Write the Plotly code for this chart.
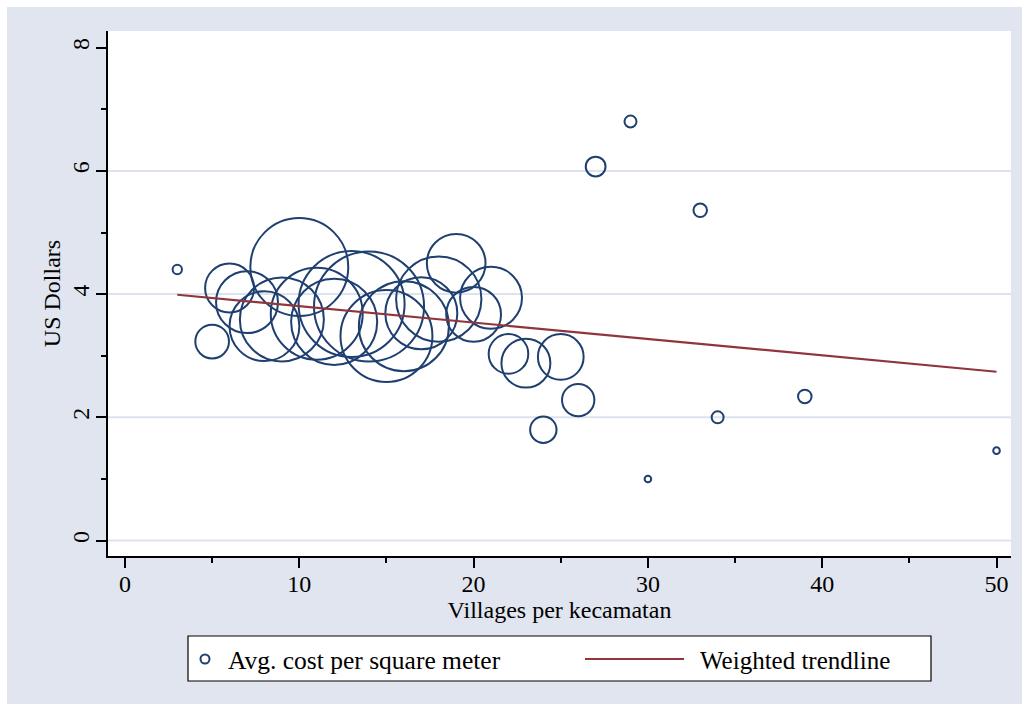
import plotly.graph_objects as go
import numpy as np

# ---- data ----
villages = [3, 5, 6, 7, 8, 9, 10, 11, 12, 13, 14, 15, 16, 17, 18, 19, 20, 21,
            22, 23, 24, 25, 26, 27, 29, 30, 33, 34, 39, 50]
cost = [4.40, 3.23, 4.10, 3.87, 3.48, 3.59, 4.44, 3.68, 3.55, 3.84, 3.80, 3.32,
        3.48, 3.69, 3.92, 4.50, 3.67, 3.94, 3.03, 2.88, 1.80, 2.98, 2.28, 6.07,
        6.80, 1.00, 5.36, 2.00, 2.34, 1.46]
weight = [2, 26, 55, 88, 112, 162, 220, 194, 170, 258, 278, 194, 186, 119, 167,
          79, 69, 88, 36, 55, 16, 48, 24, 9, 3.3, 1, 4.2, 3.3, 4.2, 1]
trend_x = [3, 50]
trend_y = [3.99, 2.74]

x_ticks = [0, 10, 20, 30, 40, 50]
x_minor = [5, 15, 25, 35, 45]
y_ticks = [0, 2, 4, 6, 8]
y_minor = [1, 3, 5, 7]
grid_vals = [0, 2, 4, 6]

x_title = "Villages per kecamatan"
y_title = "US Dollars"
legend_labels = ["Avg. cost per square meter", "Weighted trendline"]

# ---- styles ----
NAVY = "#1e3f70"
MAROON = "#90353b"
BG = "#e0e5ef"
GRID = "#dde3ee"
FONT = "Liberation Serif"
W, H = 1022, 706
L, R, T, B = 108, 11, 31, 150
pw, ph = W - L - R, H - T - B


def px(x):
    return (x - L) / pw


def py(y):
    return (H - B - y) / ph


fig = go.Figure()
fig.add_trace(go.Scatter(
    x=villages, y=cost, mode="markers", name=legend_labels[0], showlegend=False,
    marker=dict(symbol="circle-open", size=[6.6 * np.sqrt(w) for w in weight],
                color=NAVY, opacity=1, line=dict(width=2)),
))
fig.add_trace(go.Scatter(
    x=trend_x, y=trend_y, mode="lines", name=legend_labels[1], showlegend=False,
    line=dict(color=MAROON, width=2.2),
))

shapes = []
# white outer frame strips
shapes.append(dict(type="rect", xref="paper", yref="paper", x0=px(-10), x1=px(W + 10),
                   y0=py(7), y1=py(-10), fillcolor="white", line=dict(width=0), layer="below"))
shapes.append(dict(type="rect", xref="paper", yref="paper", x0=px(-10), x1=px(7),
                   y0=py(H + 10), y1=py(-10), fillcolor="white", line=dict(width=0), layer="below"))
shapes.append(dict(type="rect", xref="paper", yref="paper", x0=px(-10), x1=px(W + 10),
                   y0=py(H + 10), y1=py(704), fillcolor="white", line=dict(width=0), layer="below"))
# gridlines
for g in grid_vals:
    shapes.append(dict(type="line", xref="paper", yref="y", x0=0, x1=1, y0=g, y1=g,
                       line=dict(color=GRID, width=2), layer="below"))
# legend box
shapes.append(dict(type="rect", xref="paper", yref="paper", x0=px(188), x1=px(931),
                   y0=py(681), y1=py(636), fillcolor="white",
                   line=dict(color="black", width=1.2)))
# legend marker and line
shapes.append(dict(type="circle", xref="paper", yref="paper", x0=px(200.5), x1=px(209.5),
                   y0=py(663.5), y1=py(654.5), line=dict(color=NAVY, width=2)))
shapes.append(dict(type="line", xref="paper", yref="paper", x0=px(585), x1=px(684),
                   y0=py(659), y1=py(659), line=dict(color=MAROON, width=2.2)))

annotations = [
    dict(text=legend_labels[0], xref="paper", yref="paper", x=px(226), y=py(660),
         xanchor="left", yanchor="middle", showarrow=False,
         font=dict(family=FONT, size=25.5, color="black")),
    dict(text=legend_labels[1], xref="paper", yref="paper", x=px(698), y=py(660),
         xanchor="left", yanchor="middle", showarrow=False,
         font=dict(family=FONT, size=25, color="black")),
]

axis_common = dict(
    showline=True, linecolor="black", linewidth=1.5, mirror=False,
    ticks="outside", ticklen=10, tickwidth=1.5, tickcolor="black",
    showgrid=False, zeroline=False,
    tickfont=dict(family=FONT, size=24, color="black"),
)

fig.update_layout(
    width=W, height=H,
    margin=dict(l=L, r=R, t=T, b=B, pad=0),
    paper_bgcolor=BG, plot_bgcolor="white",
    font=dict(family=FONT, size=24, color="black"),
    showlegend=False,
    shapes=shapes, annotations=annotations,
    xaxis=dict(
        range=[-0.975, 50.83], tickmode="array", tickvals=x_ticks,
        ticktext=[str(v) for v in x_ticks], ticklabelstandoff=-5,
        minor=dict(tickmode="array", tickvals=x_minor, ticks="outside", ticklen=5,
                   tickwidth=1.5, tickcolor="black"),
        title=dict(text=x_title, standoff=2, font=dict(family=FONT, size=24, color="black")),
        **axis_common,
    ),
    yaxis=dict(
        range=[-0.25, 8.27], tickmode="array", tickvals=y_ticks,
        ticktext=[str(v) for v in y_ticks], tickangle=-90, ticklabelstandoff=-2,
        minor=dict(tickmode="array", tickvals=y_minor, ticks="outside", ticklen=5,
                   tickwidth=1.5, tickcolor="black"),
        title=dict(text=y_title, standoff=0, font=dict(family=FONT, size=24, color="black")),
        **axis_common,
    ),
)

fig.write_html("out.html")
